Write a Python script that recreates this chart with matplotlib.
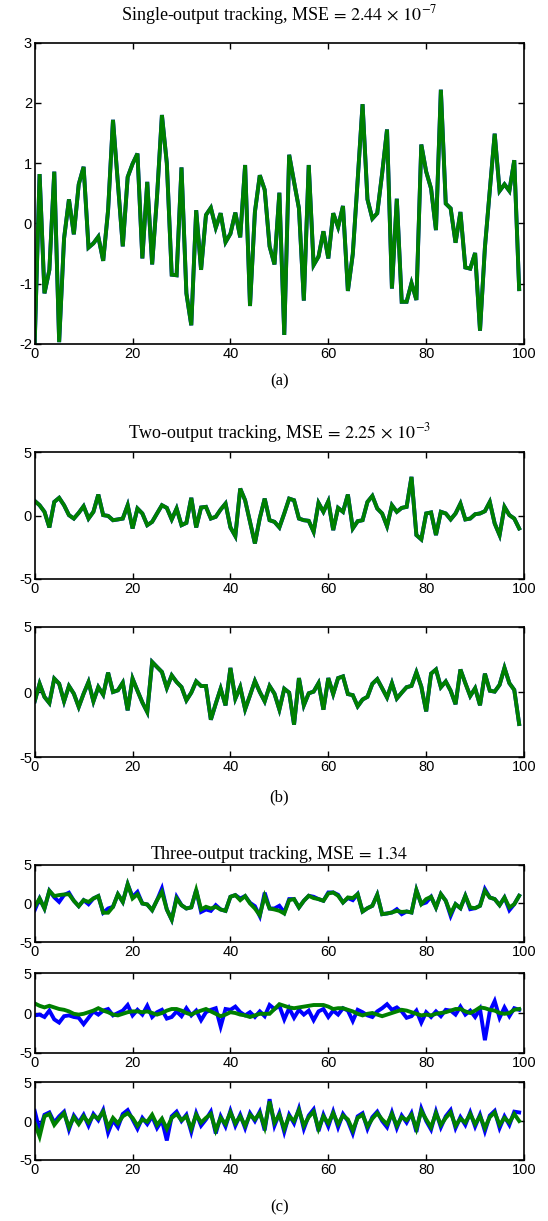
import numpy as np
import matplotlib
matplotlib.use("Agg")
import matplotlib.pyplot as plt

plt.rcParams['mathtext.fontset'] = 'stix'
plt.rcParams['axes.unicode_minus'] = False

x = np.arange(100)

# (a) single output: reference (blue) and tracked output (green)
a_green = [-2.0, 0.82, -1.16, -0.77, 0.86, -1.97, -0.25, 0.40, -0.18, 0.65,
           0.94, -0.40, -0.33, -0.22, -0.62, 0.22, 1.72, 0.67, -0.38, 0.77,
           0.99, 1.16, -0.58, 0.69, -0.68, 0.45, 1.80, 1.00, -0.85, -0.86,
           0.93, -1.16, -1.69, 0.22, -0.77, 0.14, 0.26, -0.07, 0.17, -0.31,
           -0.17, 0.18, -0.23, 0.97, -1.37, 0.19, 0.80, 0.56, -0.38, -0.68,
           0.51, -1.85, 1.14, 0.69, 0.25, -1.28, 0.97, -0.69, -0.55, -0.13,
           -0.58, 0.17, -0.06, 0.29, -1.12, -0.51, 0.72, 1.98, 0.40, 0.08,
           0.17, 0.83, 1.56, -1.08, 0.41, -1.30, -1.30, -0.99, -1.27, 1.31,
           0.86, 0.58, -0.11, 2.22, 0.33, 0.25, -0.32, 0.19, -0.73, -0.75,
           -0.49, -1.78, -0.40, 0.55, 1.49, 0.54, 0.65, 0.54, 1.05, -1.09]
a_blue = a_green

# (b) two outputs
b1_green = [1.15, 0.81, 0.29, -0.94, 1.07, 1.39, 0.81, 0.03, -0.24, 0.21,
            0.73, -0.24, 0.29, 1.65, 0.03, -0.03, -0.37, -0.31, -0.24, 0.81,
            -1.02, 0.55, 0.16, -0.76, -0.50, 0.16, 0.81, 0.60, -0.31, 0.55,
            -0.76, -0.58, 1.39, -0.94, 0.63, 0.68, -0.24, -0.10, 0.47, 0.94,
            -0.94, -1.62, 2.12, 1.20, -0.50, -2.20, -0.20, 1.33, -0.37, -0.50,
            -0.94, 0.16, 1.33, 1.20, -0.24, -0.37, -0.42, -1.28, 0.99, 0.29,
            1.12, -1.15, 0.60, 0.29, 1.65, -1.02, -0.45, -0.37, 1.07, 1.54,
            0.55, 0.16, -0.84, 0.81, 0.29, 0.60, 0.68, 3.04, -1.54, -1.88,
            0.16, 0.24, -1.54, 0.29, 0.16, -0.31, 0.16, 0.94, -0.31, -0.24,
            0.10, 0.16, 0.34, 1.07, -0.63, -1.54, 0.68, 0.03, -0.24, -1.02]
b1_blue = b1_green
b2_green = [-0.72, 0.64, -0.38, -0.85, 1.03, 0.64, -0.72, 0.46, -0.13, -1.15,
            -0.13, 0.77, -0.72, 0.38, -0.21, 1.49, 0.00, 0.13, 0.72, -1.41,
            1.03, 0.10, -0.80, -1.54, 2.31, 1.92, 1.54, 0.31, 1.28, 0.77,
            0.38, -0.64, -0.05, 0.82, 0.46, 0.46, -2.13, -0.90, 0.26, -1.03,
            1.85, -0.51, 0.38, -1.33, -0.26, 0.85, 0.00, -0.72, 0.46, -0.13,
            -1.35, 0.25, -0.05, -2.51, 1.07, -1.02, -0.10, 0.03, 0.68, -1.36,
            1.07, -0.16, 1.07, 1.20, -0.16, -0.24, -1.10, -0.58, -0.37, 0.63,
            0.99, 0.29, -0.42, 0.68, -0.50, -0.05, 0.37, 0.47, 1.52, 0.42,
            -1.49, 1.41, 1.73, 0.37, 0.81, 0.10, -0.94, 1.73, 0.68, -0.31,
            0.29, -1.02, 1.41, 0.10, 0.03, 0.55, 1.86, 0.68, 0.16, -2.46]
b2_blue = b2_green

# (c) three outputs
c1_green = [-0.43, 0.65, -0.65, 1.65, 0.96, 1.09, 1.17, 1.20, 0.35, -0.35,
            0.43, 0.20, 0.65, 0.96, -1.20, -1.20, -0.43, 1.20, 0.20, 2.50,
            0.65, 1.20, 0.00, -0.13, -0.87, 0.43, 1.50, -0.78, -2.10, 0.65,
            -0.22, -0.65, -0.50, 1.74, -0.78, -0.43, -0.65, -0.43, -0.78, -0.96,
            0.87, 1.09, 0.43, 0.96, 0.00, -0.65, -1.52, 0.96, -0.65, -0.78,
            -0.95, -1.30, 0.43, 0.57, -0.52, 0.35, 1.00, 0.70, 0.57, 0.35,
            1.30, 1.43, 1.00, 0.13, 0.78, 0.70, 1.22, -1.04, -0.61, -0.30,
            1.13, -1.39, -1.30, -1.17, -0.96, -1.10, -1.04, -1.17, 1.74, -0.09,
            0.57, 0.87, -0.52, 1.22, 0.35, -1.30, -0.09, -0.61, 1.00, -0.52,
            -0.61, -0.30, 1.65, 0.78, 0.57, -0.22, 0.78, -0.52, -0.09, 1.00]
c1_blue = [-0.87, 0.65, -0.65, 1.65, 0.80, 0.20, 1.10, 1.40, 0.35, -0.35,
           0.43, -0.10, 0.65, 0.96, -1.20, -0.65, -0.43, 1.20, 0.20, 2.50,
           0.85, 1.50, 0.00, -0.13, -0.87, 0.43, 1.95, -0.78, -2.10, 0.85,
           -0.22, -0.65, -0.50, 1.74, -1.10, -0.78, -0.96, -0.22, -0.78, -0.96,
           0.87, 1.09, 0.65, 0.96, 0.09, -0.35, -1.65, 1.40, -0.65, -0.65,
           -0.30, -1.17, 0.57, 0.57, -0.52, 0.35, 1.00, 0.87, 0.57, 0.35,
           1.43, 1.43, 1.13, 0.13, 0.70, 0.43, 1.22, -1.04, -0.61, -0.30,
           1.13, -1.39, -1.30, -1.17, -0.74, -1.39, -1.04, -1.17, 1.74, -0.09,
           0.13, 0.87, -0.52, 1.22, 0.35, -1.61, -0.09, -0.61, 1.00, -0.74,
           -0.61, -0.30, 1.87, 0.78, 0.57, -0.22, 0.78, -0.87, -0.09, 1.00]
c2_green = [1.20, 0.90, 0.70, 0.90, 0.70, 0.50, 0.40, 0.20, -0.10, -0.20,
            -0.10, 0.10, 0.30, 0.60, 0.30, 0.10, -0.20, -0.30, -0.10, 0.10,
            0.20, 0.20, 0.10, 0.20, 0.00, -0.20, 0.00, 0.30, 0.50, 0.50,
            0.30, 0.00, -0.20, 0.10, 0.30, 0.50, 0.20, -0.10, -0.40, -0.20,
            0.10, 0.00, -0.20, -0.30, -0.50, -0.30, -0.10, -0.10, -0.10, 0.50,
            1.10, 0.90, 0.70, 0.60, 0.70, 0.80, 0.90, 1.00, 1.00, 1.00,
            0.80, 0.50, 0.60, 0.60, 0.40, 0.20, -0.10, -0.30, -0.10, 0.00,
            -0.20, -0.40, -0.20, 0.00, 0.20, 0.40, 0.30, 0.10, -0.10, -0.30,
            -0.20, -0.30, -0.10, 0.00, 0.10, 0.30, 0.50, 0.50, 0.20, 0.00,
            0.30, 0.70, 0.60, 0.40, 0.30, 0.00, -0.10, 0.00, 0.40, 0.50]
c2_blue = [-0.30, -0.20, -0.50, 0.30, -0.80, -1.20, -0.40, -0.30, -0.50, -0.60,
           -1.40, -0.60, 0.20, -0.20, 0.30, 0.50, -0.30, 0.00, 0.30, 1.00,
           -0.30, 0.40, -0.20, 0.90, -0.50, 0.10, 0.40, -0.70, -0.50, 0.20,
           -0.40, 0.60, -0.30, 0.30, -0.90, 0.10, 0.40, 0.60, -1.70, 0.50,
           0.40, 0.80, 0.10, -0.30, 0.10, -0.50, 0.20, -0.40, 1.00, 0.50,
           0.90, -0.80, 0.60, -0.60, 0.40, -0.20, 0.30, -0.90, 0.20, 0.50,
           -0.50, 0.30, -0.20, 0.60, 0.30, -1.00, 0.40, 0.10, -0.30, -0.50,
           0.20, 0.60, 1.10, 0.40, 0.70, 0.20, -0.60, -0.40, 0.30, -1.20,
           0.10, -0.50, 0.20, -0.40, 0.40, 0.30, -0.20, 0.80, -0.20, 0.30,
           -0.50, 0.50, -3.40, 0.20, 1.50, -0.60, 0.70, -0.40, 0.60, 0.40]
c3_green = [-0.30, -2.00, 0.60, 0.90, -0.50, 0.30, 1.00, -0.80, 0.50, -0.40,
            0.60, -0.20, 0.70, 0.30, 1.20, -0.80, 0.40, -0.30, 0.60, 1.00,
            0.40, -0.60, 0.20, -0.10, 0.80, -0.50, 0.30, -1.00, 0.40, 0.90,
            0.10, 0.60, -1.00, 0.80, -0.20, 0.40, 0.90, -1.20, 0.40, -0.40,
            1.10, -0.30, 0.60, -0.60, 0.80, 0.20, 1.00, -0.80, 2.50, -0.20,
            0.80, -1.00, 0.60, 0.00, 1.40, -0.60, 0.50, 1.20, -1.00, 0.60,
            -0.30, 1.00, -0.40, 0.70, 0.20, -1.20, 0.40, 0.80, -0.70, 0.30,
            1.00, 0.20, -0.40, 0.90, -0.60, 0.50, 0.10, 0.80, -1.00, 1.30,
            0.20, -0.80, 1.00, -0.50, 0.40, 1.10, -0.60, 0.30, -0.20, 0.90,
            -0.40, 0.60, -0.90, 0.50, 1.10, -0.50, 0.40, -0.20, 0.90, 0.00]
c3_blue = [1.30, -1.20, 0.80, 1.10, -0.20, 0.60, 1.20, -1.10, 0.70, -0.20,
           0.80, -0.60, 0.90, 0.10, 1.40, -1.50, 0.10, -0.80, 0.90, 1.40,
           0.20, -1.00, 0.40, -0.40, 0.60, -0.90, 0.10, -2.50, 0.60, 1.20,
           0.00, 0.80, -1.40, 1.00, -0.60, 0.20, 1.20, -1.60, 0.60, -0.70,
           1.30, -0.60, 0.80, -0.90, 1.00, 0.00, 1.20, -1.20, 2.80, -0.60,
           1.00, -1.40, 0.80, -0.30, 1.60, -1.00, 0.70, 1.50, -1.30, 0.80,
           -0.70, 1.20, -0.80, 0.90, 0.00, -1.60, 0.60, 1.00, -1.00, 0.50,
           1.20, 0.00, -0.80, 1.10, -0.90, 0.70, -0.20, 1.00, -1.40, 1.60,
           0.00, -1.10, 1.20, -0.80, 0.60, 1.40, -0.90, 0.50, -0.50, 1.10,
           -0.70, 0.80, -1.30, 0.70, 1.30, -0.90, 0.60, -0.50, 1.20, 1.10]

blue = (0, 0, 1)
green = (0, 0.5, 0)
lw = 2.8

fig = plt.figure(figsize=(5.48, 12.21), dpi=100)
L, W = 0.0633, 0.893

def make_ax(bottom, height, series, ylim, yticks):
    ax = fig.add_axes([L, bottom, W, height])
    for yb, yg in series:
        ax.plot(x, yb, color=blue, lw=lw, solid_joinstyle='miter')
        ax.plot(x, yg, color=green, lw=lw, solid_joinstyle='miter')
    ax.set_xlim(0, 100)
    ax.set_ylim(*ylim)
    ax.set_xticks([0, 20, 40, 60, 80, 100])
    ax.set_yticks(yticks)
    ax.tick_params(direction='in', top=True, right=True, length=4, width=1,
                   labelsize=10.5, pad=2)
    for s in ax.spines.values():
        s.set_linewidth(1.2)
    for lab in ax.get_xticklabels() + ax.get_yticklabels():
        lab.set_fontfamily('Liberation Sans')
    return ax

make_ax(0.7183, 0.2467, [(a_blue, a_green)], (-2, 3), [-2, -1, 0, 1, 2, 3])
make_ax(0.5258, 0.1040, [(b1_blue, b1_green)], (-5, 5), [-5, 0, 5])
make_ax(0.3800, 0.1065, [(b2_blue, b2_green)], (-5, 5), [-5, 0, 5])
make_ax(0.2285, 0.0631, [(c1_blue, c1_green)], (-5, 5), [-5, 0, 5])
make_ax(0.1376, 0.0655, [(c2_blue, c2_green)], (-5, 5), [-5, 0, 5])
make_ax(0.0500, 0.0638, [(c3_blue, c3_green)], (-5, 5), [-5, 0, 5])

tf = dict(family='Liberation Serif', fontsize=13, ha='center', va='center')
cx = L + W / 2
fig.text(cx, 0.9875, r'Single-output tracking, MSE$\,=\,2.44\,\times\,10^{-7}$', **tf)
fig.text(cx, 0.6455, r'Two-output tracking, MSE$\,=\,2.25\,\times\,10^{-3}$', **tf)
fig.text(cx, 0.3000, r'Three-output tracking, MSE$\,=\,1.34$', **tf)
lf = dict(family='Liberation Serif', fontsize=12, ha='center', va='center')
fig.text(cx, 0.688, '(a)', **lf)
fig.text(cx, 0.3470, '(b)', **lf)
fig.text(cx, 0.0110, '(c)', **lf)

fig.savefig('out.png', dpi=100)
